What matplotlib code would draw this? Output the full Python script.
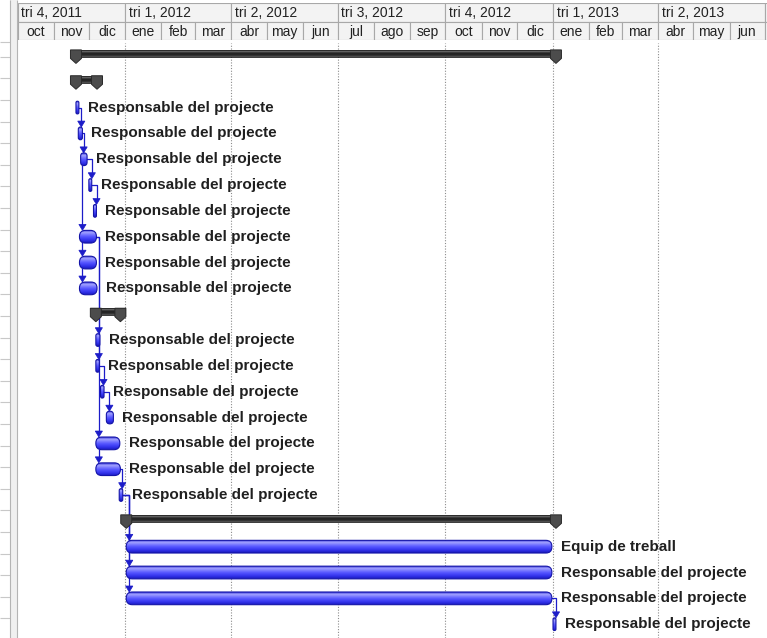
import numpy as np
import pandas as pd
import matplotlib
matplotlib.use('Agg')
import matplotlib.pyplot as plt
from matplotlib.patches import FancyBboxPatch, Polygon, Rectangle
from matplotlib.colors import LinearSegmentedColormap

plt.rcParams['font.family'] = ['Liberation Sans', 'DejaVu Sans']

# timescale
origin = pd.Timestamp('2011-10-01')
view_end = '2013-07-03'
quarter_labels = ['tri 4, 2011', 'tri 1, 2012', 'tri 2, 2012', 'tri 3, 2012',
                  'tri 4, 2012', 'tri 1, 2013', 'tri 2, 2013']
quarter_starts = ['2011-10-01', '2012-01-01', '2012-04-01', '2012-07-01',
                  '2012-10-01', '2013-01-01', '2013-04-01', '2013-07-01']
month_labels = ['oct', 'nov', 'dic', 'ene', 'feb', 'mar', 'abr', 'may', 'jun',
                'jul', 'ago', 'sep', 'oct', 'nov', 'dic', 'ene', 'feb', 'mar',
                'abr', 'may', 'jun']

# rows of the gantt, top to bottom (S = summary, T = task)
row_kind = ['S', 'S', 'T', 'T', 'T', 'T', 'T', 'T', 'T', 'T', 'S',
            'T', 'T', 'T', 'T', 'T', 'T', 'T', 'S', 'T', 'T', 'T', 'T']
task_start = [None, None, '2011-11-20', '2011-11-22', '2011-11-24', '2011-12-01',
              '2011-12-05', '2011-11-23', '2011-11-23', '2011-11-23', None,
              '2011-12-07', '2011-12-07', '2011-12-11', '2011-12-16', '2011-12-07',
              '2011-12-07', '2011-12-27', None, '2012-01-02', '2012-01-02',
              '2012-01-02', '2013-01-01']
task_days = [None, None, 2.5, 3.5, 5.5, 2.5, 2.5, 14.5, 14.5, 15, None,
             3.5, 3, 3, 6, 20.5, 21, 3, None, 364, 364, 364, 2.5]
resp = 'Responsable del projecte'
task_resource = ['', '', resp, resp, resp, resp, resp, resp, resp, resp, '',
                 resp, resp, resp, resp, resp, resp, resp, '',
                 'Equip de treball', resp, resp, resp]
summary_children = {0: (1, 22), 1: (2, 9), 10: (11, 16), 18: (19, 22)}
links = [(2, 3), (3, 4), (4, 5), (5, 6), (4, 7), (7, 8), (8, 9), (7, 11),
         (11, 12), (12, 13), (13, 14), (7, 15), (15, 16), (16, 17),
         (17, 19), (17, 20), (17, 21), (21, 22)]


def day(d):
    return (pd.Timestamp(d) - origin).days


W, H = 767, 638
fig = plt.figure(figsize=(W / 100, H / 100), dpi=100)
fig.patch.set_facecolor('white')

left_px, head_top, head_bot = 17.5, 3, 40
chart_top = 43
row_px = 25.83
x_end = day(view_end)

# left table strip + splitter (pixel coords)
deco = fig.add_axes([0, 0, 1, 1], zorder=-1)
deco.set_xlim(0, W)
deco.set_ylim(H, 0)
deco.axis('off')
deco.hlines(np.append([41.7], np.arange(56.8, H, 21.6)), 0, 10, color='#c8c8c8', lw=0.8)
deco.add_patch(Rectangle((10, 0), 7, H, facecolor='#f0f0f0', edgecolor='none'))
deco.vlines([10, 16.8], 0, H, color='#b4b4b4', lw=0.8)

# header
hx = fig.add_axes([left_px / W, (H - head_bot) / H, (W - left_px) / W,
                   (head_bot - head_top) / H])
hx.set_xlim(0, x_end)
hx.set_ylim(0, 2)
hx.axis('off')
px_x = x_end / (W - left_px)

q_days = [day(q) for q in quarter_starts]
for i in range(len(q_days)):
    q1 = q_days[i + 1] if i + 1 < len(q_days) else x_end + 30
    hx.add_patch(Rectangle((q_days[i], 1), q1 - q_days[i], 1,
                           facecolor='#f3f3f3', edgecolor='#a8a8a8', lw=0.8))
    if i < len(quarter_labels):
        hx.text(q_days[i] + 3.5 * px_x, 1.47, quarter_labels[i], fontsize=10,
                color='#222222', ha='left', va='center')
m_days = [(m - origin).days for m in pd.date_range('2011-10-01', periods=23, freq='MS')]
for i in range(len(m_days) - 1):
    hx.add_patch(Rectangle((m_days[i], 0), m_days[i + 1] - m_days[i], 1,
                           facecolor='#f3f3f3', edgecolor='#a8a8a8', lw=0.8))
    if i < len(month_labels):
        hx.text((m_days[i] + m_days[i + 1]) / 2, 0.45, month_labels[i], fontsize=10,
                color='#222222', ha='center', va='center')

# main chart
ax = fig.add_axes([left_px / W, 0, (W - left_px) / W, (H - chart_top) / H])
ax.axis('off')
y_bottom = -0.5 + (H - chart_top) / row_px
px_y = 1 / row_px

for q in q_days[1:7]:
    ax.axvline(q, color='#8c8c8c', lw=0.8, ls=(0, (1, 1.5)), zorder=0)

starts = {}
ends = {}
for i, k in enumerate(row_kind):
    if k == 'T':
        starts[i] = day(task_start[i])
        ends[i] = starts[i] + task_days[i]
for r, (a, b) in summary_children.items():
    kids = [j for j in range(a, b + 1) if row_kind[j] == 'T']
    starts[r] = min(starts[j] for j in kids)
    ends[r] = max(ends[j] for j in kids)

bar_cmap = LinearSegmentedColormap.from_list(
    'bar', ['#3a3ad8', '#a4a4ff', '#7a7aff', '#5858ff', '#4040f6', '#2c2ce2', '#1a1ab8'])
sum_cmap = LinearSegmentedColormap.from_list(
    'sum', ['#a8a8a8', '#505050', '#1e1e1e', '#2a2a2a', '#5a5a5a'])
grad = np.linspace(0, 1, 32).reshape(-1, 1)

bar_h = 12.7 * px_y
for i, k in enumerate(row_kind):
    s, e = starts[i], ends[i]
    if k == 'T':
        w = e - s
        r = min(6 * px_x, w / 2)
        patch = FancyBboxPatch((s, i - bar_h / 2), w, bar_h,
                               boxstyle=f'round,pad=0,rounding_size={r}',
                               mutation_aspect=px_y / px_x,
                               facecolor='none', edgecolor='#1414a8', lw=0.8, zorder=4)
        ax.add_patch(patch)
        im = ax.imshow(grad, cmap=bar_cmap, aspect='auto', interpolation='bilinear',
                       extent=(s, e, i + bar_h / 2, i - bar_h / 2), zorder=3)
        im.set_clip_path(patch)
        ax.annotate(task_resource[i], (e, i), xytext=(9, 0), textcoords='offset pixels',
                    fontsize=11, fontweight='bold', color='#202020',
                    ha='left', va='center', zorder=6)
    else:
        x0, x1 = s - 4.5 * px_x, e + 4.5 * px_x
        top, bot = i - 6 * px_y, i + 1 * px_y
        ax.imshow(grad, cmap=sum_cmap, aspect='auto', interpolation='bilinear',
                  extent=(x0, x1, bot, top), zorder=3)
        ax.add_patch(Rectangle((x0, top), x1 - x0, bot - top, facecolor='none',
                               edgecolor='#1a1a1a', lw=0.6, zorder=4))
        for c in (s, e):
            hw = 5.5 * px_x
            ax.add_patch(Polygon([(c - hw, top), (c + hw, top), (c + hw, bot + 1.5 * px_y),
                                  (c, i + 7.5 * px_y), (c - hw, bot + 1.5 * px_y)],
                                 closed=True, facecolor='#4c4c4c', edgecolor='#2a2a2a',
                                 lw=0.7, zorder=5))

# dependency links
link_col = '#1c1cc8'
for p, q in links:
    xv = starts[q] + 3 * px_x
    tip = q - bar_h / 2
    base = tip - 6 * px_y
    if ends[p] <= xv:
        ax.plot([ends[p], xv, xv], [p, p, base], color=link_col, lw=0.9, zorder=2,
                solid_joinstyle='round')
    else:
        ax.plot([xv, xv], [p + bar_h / 2, base], color=link_col, lw=0.9, zorder=2)
    hw = 3.6 * px_x
    ax.add_patch(Polygon([(xv - hw, base), (xv + hw, base), (xv, tip)], closed=True,
                         facecolor=link_col, edgecolor=link_col, lw=0.5, zorder=5))

ax.set_xlim(0, x_end)
ax.set_ylim(y_bottom, -0.5)

fig.savefig('out.png', dpi=100)
